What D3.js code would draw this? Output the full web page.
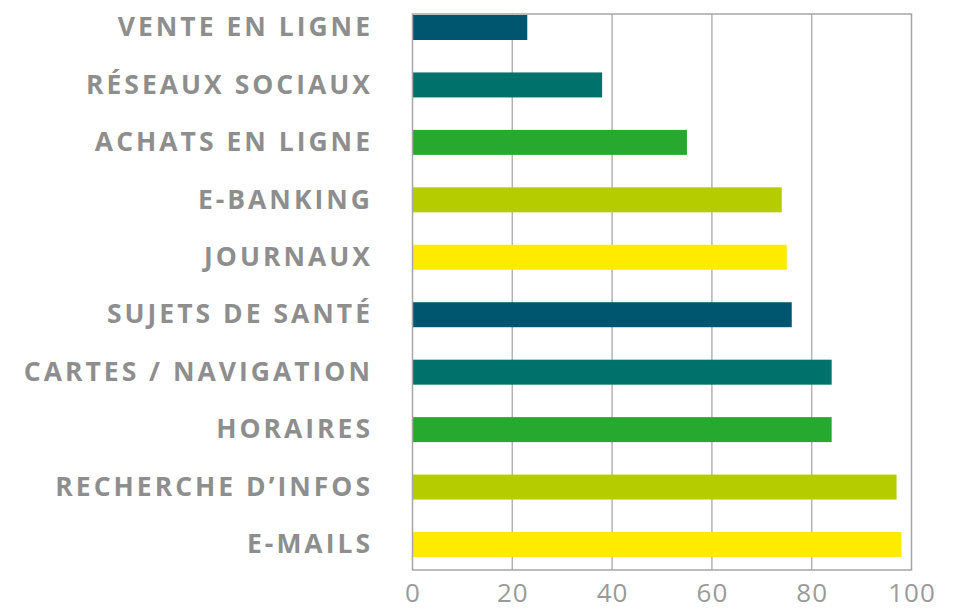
<!DOCTYPE html>
<html><head><meta charset="utf-8">
<script src="https://cdn.jsdelivr.net/npm/d3@7"></script>
<style>
html,body{margin:0;padding:0;background:#fff;}
svg{display:block;}
</style></head>
<body>
<svg id="chart" width="960" height="614"></svg>
<script>
const categories = ["VENTE EN LIGNE","RÉSEAUX SOCIAUX","ACHATS EN LIGNE","E-BANKING","JOURNAUX","SUJETS DE SANTÉ","CARTES / NAVIGATION","HORAIRES","RECHERCHE D’INFOS","E-MAILS"];
const values = [23, 38, 55, 74, 75, 76, 84, 84, 97, 98];
const barColors = ["#00566e","#00716b","#27a82f","#b5cc00","#ffeb00","#00566e","#00716b","#27a82f","#b5cc00","#ffeb00"];
const tickValues = [0, 20, 40, 60, 80, 100];

const svg = d3.select("#chart");
const plotLeft = 412.5, plotRight = 911.5, plotTop = 14, plotBottom = 570;

const x = d3.scaleLinear().domain([0, 100]).range([plotLeft, plotRight]);
const y = d3.scaleBand().domain(categories).range([15, 557]).paddingInner(0.565).paddingOuter(0);

// gridlines
svg.append("g").selectAll("line").data(tickValues.slice(1, -1)).join("line")
  .attr("x1", d => x(d)).attr("x2", d => x(d))
  .attr("y1", plotTop).attr("y2", plotBottom)
  .attr("stroke", "#b3b3b3").attr("stroke-width", 1.5);

// bars
svg.append("g").selectAll("rect").data(values).join("rect")
  .attr("x", x(0))
  .attr("y", (d, i) => y(categories[i]))
  .attr("width", d => x(d) - x(0))
  .attr("height", y.bandwidth())
  .attr("fill", (d, i) => barColors[i]);

// frame
svg.append("rect").attr("x", plotLeft).attr("y", plotTop)
  .attr("width", plotRight - plotLeft).attr("height", plotBottom - plotTop)
  .attr("fill", "none").attr("stroke", "#a6a6a6").attr("stroke-width", 1.5);

// category labels
svg.append("g").selectAll("text").data(categories).join("text")
  .attr("x", 373)
  .attr("y", d => y(d) + y.bandwidth() / 2 + 8.7)
  .attr("text-anchor", "end")
  .attr("font-family", "'Open Sans', sans-serif")
  .attr("font-weight", 700)
  .attr("font-size", 26.5)
  .attr("letter-spacing", "3px")
  .attr("fill", "#8e8e8e")
  .text(d => d);

// x axis
const xAxis = d3.axisBottom(x).tickValues(tickValues).tickSize(0).tickPadding(0).tickFormat(d3.format("d"));
const gx = svg.append("g").attr("transform", `translate(0,${plotBottom})`).call(xAxis);
gx.select(".domain").remove();
gx.selectAll("text")
  .attr("y", 32)
  .attr("dy", 0)
  .attr("font-family", "'Open Sans', sans-serif")
  .attr("font-size", 26)
  .attr("letter-spacing", "1px")
  .attr("fill", "#9a9a9a");
</script>
</body></html>
